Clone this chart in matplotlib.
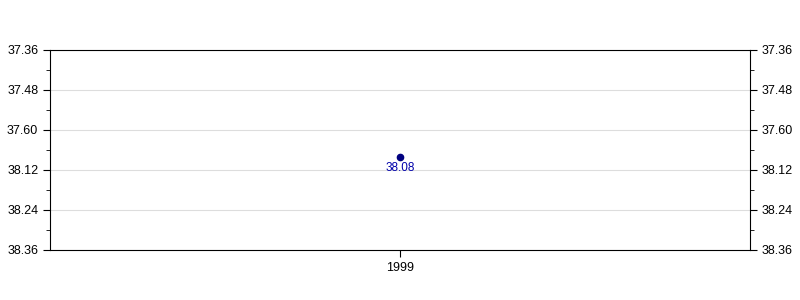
import matplotlib
matplotlib.use("Agg")
import matplotlib.pyplot as plt
from matplotlib.ticker import FixedLocator, FuncFormatter

# donnees (temps en minutes.secondes)
annees = ["1999"]
temps = ["38.08"]
graduations = ["37.36", "37.48", "37.60", "38.12", "38.24", "38.36"]


def en_minutes(t):
    m, s = t.split(".")
    return int(m) + int(s) / 60


def etiquette(v, pos=None):
    # garde le libelle d'origine de la graduation
    for g in graduations:
        if abs(en_minutes(g) - v) < 1e-6:
            return g
    return ""


plt.rcParams["font.family"] = ["Liberation Sans", "DejaVu Sans"]
plt.rcParams["font.size"] = 9

fig = plt.figure(figsize=(8, 3), dpi=100)
ax = fig.add_axes([0.0625, 1 / 6, 0.875, 2 / 3])

xs = list(range(len(annees)))
ys = [en_minutes(t) for t in temps]
ax.plot(xs, ys, "o", color="#000080", markersize=4.5, zorder=3)
for x, y, t in zip(xs, ys, temps):
    ax.annotate(t, (x, y), xytext=(0, -4), textcoords="offset points",
                ha="center", va="top", color="#0000aa", fontsize=8.5)

vals = [en_minutes(g) for g in graduations]
ax.set_ylim(vals[-1], vals[0])
ax.set_xlim(-0.5, 0.5)
ax.set_xticks(xs)
ax.set_xticklabels(annees)

ax.yaxis.set_major_locator(FixedLocator(vals))
ax.yaxis.set_major_formatter(FuncFormatter(etiquette))
mineurs = [(a + b) / 2 for a, b in zip(vals[:-1], vals[1:])]
ax.yaxis.set_minor_locator(FixedLocator(mineurs))
ax.tick_params(axis="y", which="both", direction="out", left=True, right=True,
               labelleft=True, labelright=True)
ax.tick_params(axis="y", which="major", length=5)
ax.tick_params(axis="y", which="minor", length=3)
ax.tick_params(axis="x", direction="out", length=5)
ax.grid(axis="y", color="#dddddd", linewidth=0.8)
ax.set_axisbelow(True)

fig.savefig("out.png", dpi=100)
